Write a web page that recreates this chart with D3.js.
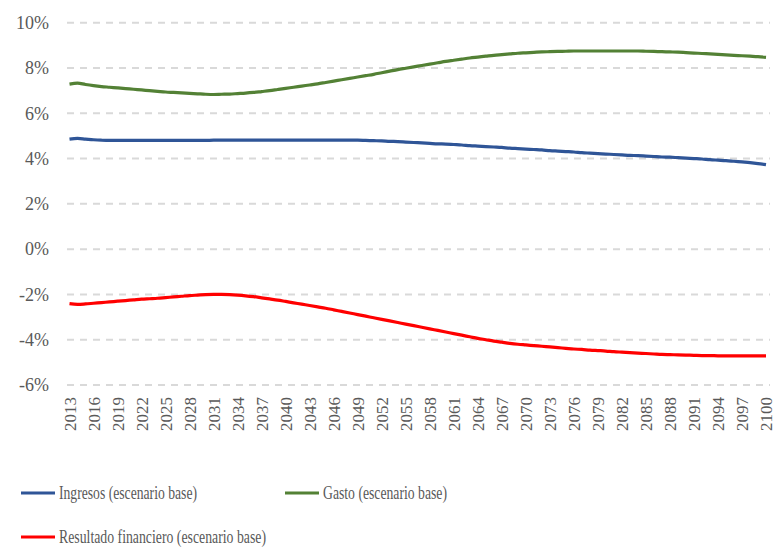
<!DOCTYPE html>
<html>
<head>
<meta charset="utf-8">
<script src="https://cdn.jsdelivr.net/npm/d3@7"></script>
<style>
  html, body { margin: 0; padding: 0; background: #fff; }
  svg { display: block; }
  svg text { font-family: "Liberation Serif", "Times New Roman", "DejaVu Serif", serif !important; fill: #595959; }
</style>
</head>
<body>
<svg id="chart" width="775" height="547"></svg>
<script>
// Years 2013–2100
const years = d3.range(2013, 2101);

// Ingresos (escenario base), % del PIB
const ingresos = [
  4.86, 4.89, 4.86, 4.83, 4.81, 4.80, 4.80, 4.80, 4.80, 4.80,
  4.80, 4.80, 4.80, 4.80, 4.80, 4.80, 4.80, 4.80, 4.81, 4.81,
  4.81, 4.81, 4.81, 4.81, 4.81, 4.81, 4.81, 4.81, 4.81, 4.81,
  4.81, 4.81, 4.81, 4.81, 4.81, 4.81, 4.81, 4.80, 4.79, 4.78,
  4.76, 4.75, 4.73, 4.71, 4.69, 4.67, 4.65, 4.64, 4.62, 4.60,
  4.57, 4.55, 4.53, 4.51, 4.49, 4.46, 4.44, 4.42, 4.40, 4.38,
  4.35, 4.33, 4.31, 4.29, 4.26, 4.24, 4.22, 4.20, 4.18, 4.16,
  4.14, 4.13, 4.11, 4.09, 4.07, 4.06, 4.04, 4.02, 4.00, 3.98,
  3.95, 3.93, 3.91, 3.88, 3.85, 3.82, 3.78, 3.73
];

// Gasto (escenario base), % del PIB
const gasto = [
  7.29, 7.33, 7.27, 7.22, 7.18, 7.15, 7.12, 7.09, 7.06, 7.03,
  7.00, 6.97, 6.94, 6.92, 6.90, 6.88, 6.86, 6.84, 6.83, 6.84,
  6.85, 6.87, 6.89, 6.92, 6.96, 7.00, 7.05, 7.10, 7.15, 7.20,
  7.25, 7.30, 7.36, 7.42, 7.48, 7.54, 7.60, 7.66, 7.72, 7.79,
  7.86, 7.93, 7.99, 8.05, 8.11, 8.17, 8.23, 8.29, 8.34, 8.39,
  8.44, 8.48, 8.52, 8.56, 8.59, 8.62, 8.65, 8.67, 8.69, 8.71,
  8.72, 8.73, 8.74, 8.75, 8.75, 8.75, 8.75, 8.75, 8.75, 8.75,
  8.75, 8.75, 8.74, 8.73, 8.72, 8.71, 8.70, 8.68, 8.66, 8.64,
  8.62, 8.60, 8.58, 8.56, 8.54, 8.52, 8.50, 8.47
];

// Resultado financiero (escenario base), % del PIB
const resultado = [
  -2.41, -2.44, -2.42, -2.39, -2.36, -2.33, -2.30, -2.27, -2.24, -2.21,
  -2.19, -2.17, -2.14, -2.11, -2.08, -2.05, -2.03, -2.01, -2.00, -2.00,
  -2.01, -2.03, -2.06, -2.10, -2.15, -2.20, -2.25, -2.31, -2.37, -2.43,
  -2.49, -2.55, -2.61, -2.68, -2.75, -2.82, -2.89, -2.96, -3.03, -3.10,
  -3.17, -3.24, -3.31, -3.38, -3.45, -3.52, -3.59, -3.66, -3.73, -3.80,
  -3.87, -3.94, -4.00, -4.06, -4.11, -4.16, -4.20, -4.23, -4.26, -4.29,
  -4.32, -4.35, -4.38, -4.41, -4.43, -4.46, -4.48, -4.50, -4.53, -4.55,
  -4.57, -4.59, -4.61, -4.63, -4.65, -4.66, -4.67, -4.68, -4.69, -4.70,
  -4.70, -4.71, -4.71, -4.71, -4.71, -4.71, -4.71, -4.71
];

const yTicks = [-6, -4, -2, 0, 2, 4, 6, 8, 10];
const xTickYears = years.filter(y => (y - 2013) % 3 === 0);

const seriesNames = [
  "Ingresos (escenario base)",
  "Gasto (escenario base)",
  "Resultado financiero (escenario base)"
];
const seriesColors = ["#2F5597", "#538135", "#FF0000"];
const seriesValues = [ingresos, gasto, resultado];

const svg = d3.select("#chart");
svg.append("rect").attr("width", 775).attr("height", 547).attr("fill", "#fff");

const x = d3.scalePoint().domain(years).range([69.5, 766]);
const y = d3.scaleLinear().domain([-6, 10]).range([385, 22.7]);

// Horizontal dashed gridlines
svg.append("g")
  .selectAll("line")
  .data(yTicks)
  .join("line")
  .attr("x1", 67).attr("x2", 770)
  .attr("y1", d => y(d)).attr("y2", d => y(d))
  .attr("stroke", "#D9D9D9")
  .attr("stroke-width", 2)
  .attr("stroke-dasharray", "7,6");

// Y axis labels
const yAxis = d3.axisLeft(y).tickValues(yTicks).tickSize(0).tickPadding(0)
  .tickFormat(d => d + "%");
const gy = svg.append("g").attr("transform", "translate(49,0)").call(yAxis);
gy.attr("font-family", null);
gy.select(".domain").remove();
gy.selectAll("text")
  .style("font-size", "18px")
  .attr("dy", "0.32em");

// X axis labels (vertical)
const xAxis = d3.axisBottom(x).tickValues(xTickYears).tickSize(0).tickPadding(0);
const gx = svg.append("g").attr("transform", "translate(0,385)").call(xAxis);
gx.attr("font-family", null);
gx.select(".domain").remove();
gx.selectAll("text")
  .style("font-size", "17px")
  .attr("transform", "rotate(-90)")
  .attr("text-anchor", "end")
  .attr("x", -12)
  .attr("y", 0)
  .attr("dy", "0.33em");

// Series lines
const line = d3.line()
  .x((d, i) => x(years[i]))
  .y(d => y(d))
  .curve(d3.curveMonotoneX);

seriesValues.forEach((vals, i) => {
  svg.append("path")
    .datum(vals)
    .attr("fill", "none")
    .attr("stroke", seriesColors[i])
    .attr("stroke-width", 3.2)
    .attr("stroke-linejoin", "round")
    .attr("d", line);
});

// Legend
const legendItems = [
  { x: 21, y: 493, lenText: 138 },
  { x: 285, y: 493, lenText: 124 },
  { x: 21, y: 537, lenText: 207 }
];
legendItems.forEach((it, i) => {
  const g = svg.append("g");
  g.append("line")
    .attr("x1", it.x).attr("x2", it.x + 34)
    .attr("y1", it.y).attr("y2", it.y)
    .attr("stroke", seriesColors[i])
    .attr("stroke-width", 3);
  g.append("text")
    .attr("x", it.x + 38)
    .attr("y", it.y)
    .attr("dy", "0.32em")
    .attr("textLength", it.lenText)
    .attr("lengthAdjust", "spacingAndGlyphs")
    .style("font-size", "18px")
    .text(seriesNames[i]);
});
</script>
</body>
</html>
